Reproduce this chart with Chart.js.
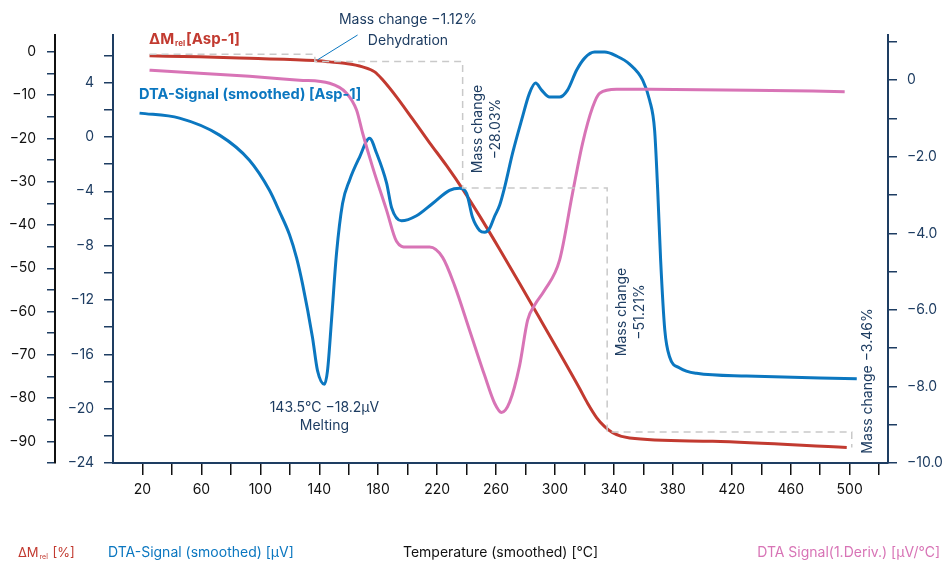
<!DOCTYPE html>
<html>
<head>
<meta charset="utf-8">
<title>Asp-1 TGA / DTA</title>
<script src="https://cdn.jsdelivr.net/npm/chart.js@4.4.1/dist/chart.umd.min.js"></script>
<style>
  html, body { margin: 0; padding: 0; background: #fff; }
  #wrap { width: 942px; height: 563px; }
</style>
</head>
<body>
<div id="wrap"><canvas id="chart" width="942" height="563"></canvas></div>
<script>
// Relative mass change ΔMrel [%] vs temperature [°C]
const massTemp   = [24.8, 58.7, 92.6, 136.8, 147, 157.1, 169.4, 177.6, 183, 192.4, 203.3, 214.9, 226.4, 237.3, 248.8, 262.4, 276, 289.5, 303.1, 316.7, 322.1, 328.2, 333.7, 339.1, 350.6, 407, 498];
const massValues = [-0.92, -1.15, -1.5, -2.0, -2.31, -2.65, -3.46, -4.62, -6.46, -10.4, -15.5, -21.0, -26.3, -31.7, -37.9, -45.6, -53.5, -61.5, -69.6, -77.8, -81.2, -84.5, -86.6, -88.0, -89.2, -90.0, -91.4];

// DTA signal (smoothed) [µV]
const dtaTemp   = [18.0, 45.1, 72.3, 92.6, 106.2, 113.0, 119.8, 124.6, 128.6, 135.4, 138.8, 143.5, 145.6, 148.3, 151.7, 155.8, 160.5, 167.3, 174.1, 178.9, 185.7, 189.1, 195.8, 206.0, 216.9, 228.4, 235.2, 240.0, 244.0, 248.8, 252.2, 255.6, 259.0, 262.4, 265.8, 271.2, 277.3, 282.7, 286.8, 290.9, 296.3, 303.1, 308.5, 314.7, 320.1, 326.9, 333.7, 341.8, 350.6, 359.5, 364.2, 367.6, 369.7, 371.7, 374.5, 377.8, 384.6, 396.1, 430, 504.8];
const dtaValues = [1.75, 1.38, 0.13, -1.72, -3.93, -5.5, -7.2, -8.9, -10.8, -14.76, -17.2, -18.2, -17.2, -13.5, -8.57, -4.9, -3.2, -1.5, -0.1, -1.2, -3.4, -5.21, -6.17, -5.8, -4.9, -3.93, -3.78, -4.15, -5.92, -6.88, -7.02, -6.73, -5.84, -5.03, -3.71, -1.2, 1.23, 3.22, 3.96, 3.44, 2.93, 2.93, 3.44, 4.92, 5.8, 6.24, 6.24, 5.95, 5.36, 4.18, 2.7, 0.49, -3.94, -9.1, -14.2, -16.2, -17.0, -17.4, -17.6, -17.8];

// DTA signal, 1st derivative [µV/°C]
const derivTemp   = [24.8, 58.7, 92.6, 126.6, 147, 158.5, 165.3, 169.4, 176.2, 185.7, 192.4, 199.2, 208.1, 214.9, 223.7, 231.8, 242, 252.2, 259, 263.7, 269.2, 276, 281.4, 286.1, 292.9, 303.1, 311.9, 318.7, 325.5, 330.3, 341.8, 364.2, 432.1, 496.6];
const derivValues = [0.26, 0.18, 0.10, 0.0, -0.08, -0.34, -0.78, -1.38, -2.27, -3.4, -4.21, -4.36, -4.36, -4.36, -4.63, -5.36, -6.53, -7.71, -8.44, -8.68, -8.41, -7.45, -6.27, -5.88, -5.49, -4.7, -2.95, -1.65, -0.71, -0.34, -0.24, -0.24, -0.26, -0.30];

// dashed mass-step guide and the leader line of the dehydration note
const stepTemp = [24.8, 137, 137, 237.3, 237.3, 335.4, 335.4, 501.4, 501.4];
const stepMass = [-0.53, -0.53, -2.24, -2.24, -31.46, -31.46, -87.86, -87.86, -91.39];
const leaderTemp = [138.8, 166];
const leaderMass = [-1.85, 3.9];

// ticks
const tempTicks  = [20, 40, 60, 80, 100, 120, 140, 160, 180, 200, 220, 240, 260, 280, 300, 320, 340, 360, 380, 400, 420, 440, 460, 480, 500, 520];
const massTicks  = [-95, -90, -85, -80, -75, -70, -65, -60, -55, -50, -45, -40, -35, -30, -25, -20, -15, -10, -5, 0];
const dtaTicks   = [-24, -22, -20, -18, -16, -14, -12, -10, -8, -6, -4, -2, 0, 2, 4, 6];
const derivTicks = [-10, -9, -8, -7, -6, -5, -4, -3, -2, -1, 0, 1];

const RED = '#c23a30';
const BLUE = '#0b77c0';
const PINK = '#d874b6';
const NAVY = '#1e3d62';
const FONT = 'Inter, "Noto Sans", sans-serif';

const pts = (xs, ys) => xs.map((x, i) => ({ x: x, y: ys[i] }));
const minus = v => (v < 0 ? '\u2212' + Math.abs(v) : String(v));

function fixTicks(list) {
    return scale => { scale.ticks = list.map(v => ({ value: v })); };
}

function drawRotated(ctx, lines, cx, cy, gap) {
    ctx.save();
    ctx.translate(cx, cy);
    ctx.rotate(-Math.PI / 2);
    ctx.textAlign = 'center';
    ctx.textBaseline = 'middle';
    lines.forEach((t, i) => ctx.fillText(t, 0, (i - (lines.length - 1) / 2) * gap));
    ctx.restore();
}

// ΔM with a "rel" subscript, followed by the rest of the text
function drawDeltaM(ctx, x, y, size, weight, color, rest) {
    ctx.fillStyle = color;
    ctx.textBaseline = 'alphabetic';
    ctx.textAlign = 'left';
    ctx.font = weight + ' ' + size + 'px ' + FONT;
    ctx.fillText('\u0394M', x, y);
    x += ctx.measureText('\u0394M').width + 1;
    ctx.font = weight + ' ' + Math.round(size * 0.55) + 'px ' + FONT;
    ctx.fillText('rel', x, y + 2);
    x += ctx.measureText('rel').width + 1;
    ctx.font = weight + ' ' + size + 'px ' + FONT;
    ctx.fillText(rest, x, y);
}

const notes = {
    id: 'notes',
    afterDraw(chart) {
        const ctx = chart.ctx;
        const sx = chart.scales.x, sD = chart.scales.yD;
        ctx.save();

        // series names inside the plot
        drawDeltaM(ctx, 149, 44, 15, 'bold', RED, '[Asp-1]');
        ctx.font = 'bold 14.6px ' + FONT;
        ctx.fillStyle = BLUE;
        ctx.textAlign = 'left';
        ctx.textBaseline = 'middle';
        ctx.fillText('DTA-Signal (smoothed) [Asp-1]', 139, 95);

        // mass change notes
        ctx.fillStyle = NAVY;
        ctx.font = '14px ' + FONT;
        ctx.textAlign = 'center';
        ctx.fillText('Mass change \u22121.12%', 408, 20);
        ctx.fillText('Dehydration', 408, 41);
        drawRotated(ctx, ['Mass change', '\u221228.03%'], sx.getPixelForValue(237.3) + 24, 129, 18);
        drawRotated(ctx, ['Mass change', '\u221251.21%'], sx.getPixelForValue(335.4) + 24, 312, 18);
        drawRotated(ctx, ['Mass change \u22123.46%'], 868, 381, 18);

        // melting peak
        const mx = sx.getPixelForValue(143.5);
        const my = sD.getPixelForValue(-18.2);
        ctx.textAlign = 'center';
        ctx.fillText('143.5\u00b0C \u221218.2\u00b5V', mx, my + 24);
        ctx.fillText('Melting', mx, my + 42);

        // axis names along the bottom
        drawDeltaM(ctx, 18, 557, 13, '', RED, ' [%]');
        ctx.font = '14px ' + FONT;
        ctx.textBaseline = 'alphabetic';
        ctx.textAlign = 'left';
        ctx.fillStyle = BLUE;
        ctx.fillText('DTA-Signal (smoothed) [\u00b5V]', 108, 557);
        ctx.fillStyle = '#111';
        ctx.fillText('Temperature (smoothed) [\u00b0C]', 403, 557);
        ctx.fillStyle = PINK;
        ctx.textAlign = 'right';
        ctx.fillText('DTA Signal(1.Deriv.) [\u00b5V/\u00b0C]', 940, 557);
        ctx.restore();
    }
};

const line = (data, color, axis, extra) => Object.assign({
    data: data,
    yAxisID: axis,
    borderColor: color,
    borderWidth: 3,
    pointRadius: 0,
    fill: false,
    cubicInterpolationMode: 'monotone'
}, extra || {});

new Chart(document.getElementById('chart'), {
    type: 'line',
    data: {
        datasets: [
            line(pts(stepTemp, stepMass), '#c9c9c9', 'yM', { borderWidth: 1.5, borderDash: [7, 5], cubicInterpolationMode: 'default', tension: 0 }),
            line(pts(leaderTemp, leaderMass), BLUE, 'yM', { borderWidth: 1, cubicInterpolationMode: 'default', tension: 0, clip: false }),
            line(pts(derivTemp, derivValues), PINK, 'yR'),
            line(pts(dtaTemp, dtaValues), BLUE, 'yD'),
            line(pts(massTemp, massValues), RED, 'yM')
        ]
    },
    options: {
        responsive: false,
        animation: false,
        devicePixelRatio: 1,
        layout: { padding: { top: 35, left: 0, right: 0, bottom: 0 } },
        plugins: { legend: { display: false }, tooltip: { enabled: false } },
        scales: {
            x: {
                type: 'linear',
                min: 0,
                max: 526,
                afterBuildTicks: fixTicks(tempTicks),
                afterFit: s => { s.height = 100; },
                border: { display: true, color: NAVY, width: 2 },
                grid: { drawOnChartArea: false, drawTicks: true, tickLength: 12, color: '#111', lineWidth: 1.5 },
                ticks: {
                    autoSkip: false, maxRotation: 0, padding: 6,
                    color: '#111', font: { family: FONT, size: 14 },
                    callback: v => ((v - 20) % 40 === 0 ? String(v) : '')
                }
            },
            yD: {
                position: 'left',
                weight: 0,
                min: -24,
                max: 7.5,
                afterBuildTicks: fixTicks(dtaTicks),
                afterFit: s => { s.width = 58; },
                border: { display: true, color: NAVY, width: 2 },
                grid: { drawOnChartArea: false, tickLength: 9, color: NAVY, lineWidth: 1.5 },
                ticks: {
                    autoSkip: false, padding: 10,
                    color: NAVY, font: { family: FONT, size: 14 },
                    callback: v => (v % 4 === 0 ? minus(v) : '')
                }
            },
            yM: {
                position: 'left',
                weight: 1,
                min: -95,
                max: 3.9,
                afterBuildTicks: fixTicks(massTicks),
                afterFit: s => { s.width = 55; },
                border: { display: true, color: '#111', width: 2 },
                grid: { drawOnChartArea: false, tickLength: 8, color: NAVY, lineWidth: 1.5 },
                ticks: {
                    autoSkip: false, padding: 11,
                    color: '#111', font: { family: FONT, size: 14 },
                    callback: v => (v % 10 === 0 ? minus(v) : '')
                }
            },
            yR: {
                position: 'right',
                min: -10,
                max: 1.18,
                afterBuildTicks: fixTicks(derivTicks),
                afterFit: s => { s.width = 54; },
                border: { display: true, color: NAVY, width: 2 },
                grid: { drawOnChartArea: false, tickLength: 9, color: NAVY, lineWidth: 1.5 },
                ticks: {
                    autoSkip: false, padding: 10,
                    color: NAVY, font: { family: FONT, size: 14 },
                    callback: v => (v === 0 ? '0' : v % 2 === 0 ? '\u2212' + Math.abs(v).toFixed(1) : '')
                }
            }
        }
    },
    plugins: [notes]
});
</script>
</body>
</html>
